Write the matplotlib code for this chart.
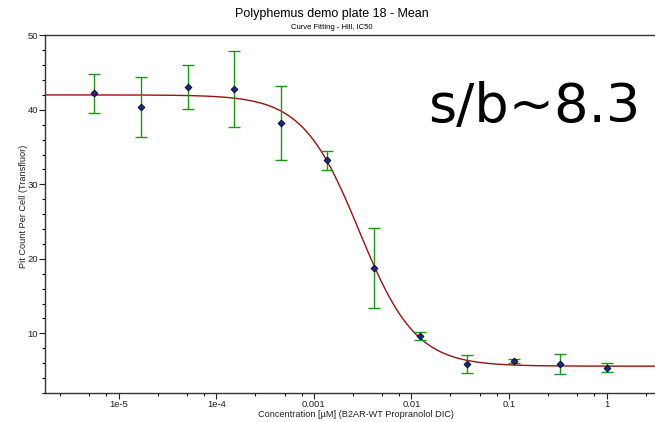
import numpy as np
import matplotlib
matplotlib.use('Agg')
import matplotlib.pyplot as plt
from matplotlib.ticker import FixedLocator, FixedFormatter, NullFormatter

plt.rcParams['font.family'] = ['Liberation Sans', 'DejaVu Sans']

# 数据 (浓度 µM, 均值, 误差)
conc = [5.65e-6, 1.69e-5, 5.08e-5, 1.52e-4, 4.57e-4, 1.37e-3,
        4.12e-3, 0.0123, 0.037, 0.111, 0.333, 1.0]
mean = [42.2, 40.4, 43.1, 42.8, 38.2, 33.2, 18.8, 9.6, 5.9, 6.3, 5.9, 5.4]
err = [2.6, 4.0, 2.95, 5.1, 4.95, 1.25, 5.4, 0.55, 1.15, 0.3, 1.4, 0.6]

# Hill 拟合参数
fit_top = 42.0
fit_bottom = 5.6
fit_ic50 = 2.9e-3
fit_hill = 1.5

xtick_vals = [1e-5, 1e-4, 1e-3, 1e-2, 1e-1, 1]
xtick_labels = ['1e-5', '1e-4', '0.001', '0.01', '0.1', '1']
ytick_vals = [10, 20, 30, 40, 50]

fig = plt.figure(figsize=(6.55, 4.22), dpi=100)
ax = fig.add_axes([45 / 655, 29 / 422, 610 / 655, 357.7 / 422])

xlo, xhi = 10 ** -5.755, 10 ** 0.495
xs = np.logspace(np.log10(xlo), np.log10(xhi), 400)
ys = fit_bottom + (fit_top - fit_bottom) / (1 + (xs / fit_ic50) ** fit_hill)
ax.plot(xs, ys, color='#9b1010', linewidth=1.0, zorder=2)

ax.errorbar(conc, mean, yerr=err, fmt='none', ecolor='#1a961a',
            elinewidth=1.0, capsize=4, capthick=1.0, zorder=3)
ax.scatter(conc, mean, marker='D', s=12, color='#102a9a',
           edgecolors='black', linewidths=0.6, zorder=4)

ax.set_xscale('log')
ax.set_xlim(xlo, xhi)
ax.set_ylim(2, 50)

ax.xaxis.set_major_locator(FixedLocator(xtick_vals))
ax.xaxis.set_major_formatter(FixedFormatter(xtick_labels))
minor = [m * 10.0 ** e for e in range(-7, 1) for m in (2.5, 5, 7.5)]
ax.xaxis.set_minor_locator(FixedLocator(minor))
ax.xaxis.set_minor_formatter(NullFormatter())
ax.yaxis.set_major_locator(FixedLocator(ytick_vals))
ax.yaxis.set_minor_locator(FixedLocator(list(range(2, 51, 2))))

ax.tick_params(which='major', direction='out', length=4, width=0.8,
               labelsize=6.8, colors='#222222', pad=1)
ax.tick_params(which='minor', direction='out', length=2.5, width=0.8)
ax.spines['right'].set_visible(False)
for s in ['left', 'bottom', 'top']:
    ax.spines[s].set_color('#333333')
    ax.spines[s].set_linewidth(1.0)

ax.set_xlabel('Concentration [µM] (B2AR-WT Propranolol DIC)', fontsize=6.6,
              color='#222222')
ax.set_ylabel('Pit Count Per Cell (Transfluor)', fontsize=6.6,
              color='#222222')
ax.xaxis.set_label_coords(0.51, -0.06)
ax.yaxis.set_label_coords(-0.036, 0.523)
ax.xaxis.label.set_va('center')
ax.yaxis.label.set_va('center')

fig.text(0.507, 0.966, 'Polyphemus demo plate 18 - Mean', ha='center',
         va='center', fontsize=9)
fig.text(0.507, 0.935, 'Curve Fitting - Hill, IC50', ha='center',
         va='center', fontsize=5.5)
fig.text(428 / 655, 1 - 122 / 422, 's/b~8.3', ha='left', va='baseline',
         fontsize=39, family='DejaVu Sans')

fig.savefig('out.png', dpi=100)
